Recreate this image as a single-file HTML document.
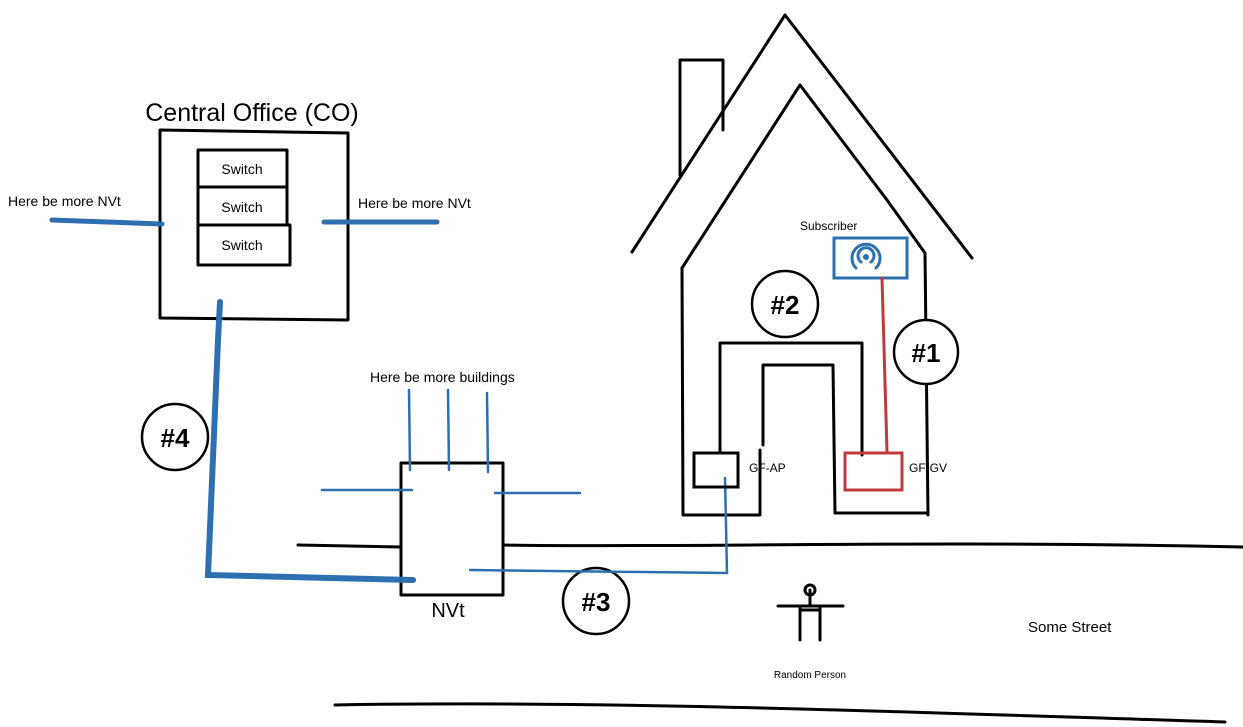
<!DOCTYPE html>
<html><head><style>
body{margin:0;background:#fff;}
svg{display:block;}
text{font-family:"Liberation Sans",sans-serif;fill:#000;}
</style></head><body>
<svg width="1243" height="727" viewBox="0 0 1243 727" xmlns="http://www.w3.org/2000/svg">
<g fill="none" stroke="#000" stroke-width="3" stroke-linecap="round" stroke-linejoin="round">
<!-- house -->
<path d="M632,252 L785,15 L972,258"/>
<path d="M682,268 L800,85 L887,200 L925,253 L928,515"/>
<path d="M682,268 L683,515 L760,515 L760,450"/>
<path d="M680,175 L680,60 L723,60 L723,130"/>
<path d="M720,452 L720,343 L862,343 L862,455"/>
<path d="M763,445 L763,365 L833,365 L835,513 L928,513"/>
<!-- CO -->
<path d="M160,130 L160,318 L348,320 L348,133 Z"/>
<rect x="198" y="150" width="89" height="37"/>
<rect x="198" y="187" width="89" height="38"/>
<rect x="198" y="225" width="92" height="40"/>
<!-- NVt -->
<rect x="401" y="463" width="102" height="132"/>
<path d="M298,545 L401,547"/>
<path d="M503,545 C700,548 900,540 1245,547"/>
<path d="M335,705 C600,700 900,712 1225,722"/>
<!-- person -->
<path d="M810,590 L810,604 M778,606 L843,606 M800,606 L800,640 M820,606 L820,640 M800,610 L820,610"/>
<circle cx="810" cy="590" r="5"/>
</g>
<!-- circles -->
<g fill="#fff" stroke="#000" stroke-width="2.5">
<circle cx="926" cy="352" r="32"/>
<circle cx="785" cy="304" r="33"/>
<circle cx="596" cy="601" r="33"/>
<circle cx="175" cy="437" r="33"/>
</g>
<g font-weight="bold" font-size="26" text-anchor="middle">
<text x="926" y="362">#1</text>
<text x="785" y="314">#2</text>
<text x="596" y="611">#3</text>
<text x="175" y="447">#4</text>
</g>
<!-- blue -->
<g fill="none" stroke="#2e6fb0" stroke-linecap="round">
<path d="M52,220 L162,224" stroke-width="5"/>
<path d="M324,222 L437,222" stroke-width="5"/>
<path d="M220,302 L218,340 L208,575 L413,580" stroke-width="6"/>
<path d="M322,490 L412,490 M495,493 L580,493 M409,390 L410,470 M448,390 L449,470 M487,393 L488,472" stroke-width="2.5"/>
<path d="M470,570 L727,573 L725,478" stroke-width="2.5"/>
<rect x="834" y="238" width="73" height="40" stroke-width="3"/>
<path d="M856,268 A14,14 0 1 1 876,268 M861,262 A8,8 0 1 1 871,262" stroke-width="3"/>
</g>
<circle cx="866" cy="257" r="3" fill="#2e6fb0"/>
<!-- red -->
<g fill="none" stroke="#c0393e" stroke-width="3" stroke-linecap="round">
<path d="M882,278 L887,452"/>
<rect x="845" y="453" width="57" height="37"/>
</g>
<rect x="694" y="453" width="44" height="34" fill="none" stroke="#000" stroke-width="3"/>
<!-- labels -->
<text x="252" y="121" font-size="25" text-anchor="middle">Central Office (CO)</text>
<g font-size="14" text-anchor="middle">
<text x="242" y="174">Switch</text>
<text x="242" y="212">Switch</text>
<text x="242" y="250">Switch</text>
</g>
<text x="8" y="206" font-size="14">Here be more NVt</text>
<text x="358" y="208" font-size="14">Here be more NVt</text>
<text x="370" y="382" font-size="14">Here be more buildings</text>
<text x="448" y="617" font-size="20" text-anchor="middle">NVt</text>
<text x="800" y="230" font-size="12">Subscriber</text>
<text x="749" y="472" font-size="12">GF-AP</text>
<text x="909" y="472" font-size="12">GF-GV</text>
<text x="1028" y="632" font-size="15">Some Street</text>
<text x="810" y="678" font-size="10" text-anchor="middle">Random Person</text>
</svg>
</body></html>
